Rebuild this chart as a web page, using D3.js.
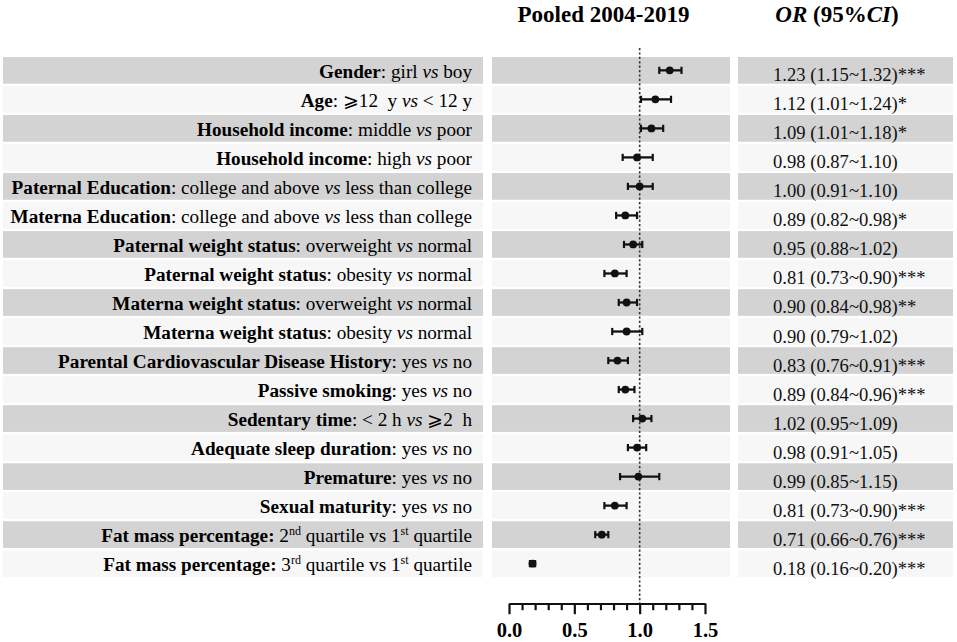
<!DOCTYPE html>
<html>
<head>
<meta charset="utf-8">
<script src="https://cdn.jsdelivr.net/npm/d3@7"></script>
<style>
  html, body { margin: 0; padding: 0; background: #fff; }
  svg { display: block; font-family: "Liberation Serif", "Times New Roman", "DejaVu Serif", serif; }
  text { white-space: pre; }
</style>
</head>
<body>
<svg id="chart" width="957" height="642"></svg>
<script>
// ---- data ----
const labelHeads = [
  "Gender", "Age", "Household income", "Household income",
  "Paternal Education", "Materna Education",
  "Paternal weight status", "Paternal weight status",
  "Materna weight status", "Materna weight status",
  "Parental Cardiovascular Disease History", "Passive smoking",
  "Sedentary time", "Adequate sleep duration", "Premature",
  "Sexual maturity", "Fat mass percentage:", "Fat mass percentage:"
];
const labelTails = [
  ": girl *vs* boy",
  ": \u2A7E12  y *vs* < 12 y",
  ": middle *vs* poor",
  ": high *vs* poor",
  ": college and above *vs* less than college",
  ": college and above *vs* less than college",
  ": overweight *vs* normal",
  ": obesity *vs* normal",
  ": overweight *vs* normal",
  ": obesity *vs* normal",
  ": yes *vs* no",
  ": yes *vs* no",
  ": < 2 h *vs* \u2A7E2  h",
  ": yes *vs* no",
  ": yes *vs* no",
  ": yes *vs* no",
  " 2^nd^ quartile vs 1^st^ quartile",
  " 3^rd^ quartile vs 1^st^ quartile"
];
const orValues = [1.23, 1.12, 1.09, 0.98, 1.00, 0.89, 0.95, 0.81, 0.90, 0.90, 0.83, 0.89, 1.02, 0.98, 0.99, 0.81, 0.71, 0.18];
const ciLower  = [1.15, 1.01, 1.01, 0.87, 0.91, 0.82, 0.88, 0.73, 0.84, 0.79, 0.76, 0.84, 0.95, 0.91, 0.85, 0.73, 0.66, 0.16];
const ciUpper  = [1.32, 1.24, 1.18, 1.10, 1.10, 0.98, 1.02, 0.90, 0.98, 1.02, 0.91, 0.96, 1.09, 1.05, 1.15, 0.90, 0.76, 0.20];
const signif   = ["***", "*", "*", "", "", "*", "", "***", "**", "", "***", "***", "", "", "", "***", "***", "***"];
const xTicksMajor = [0, 0.5, 1.0, 1.5];
const xTicksMinor = [0.1, 0.2, 0.3, 0.4, 0.6, 0.7, 0.8, 0.9, 1.1, 1.2, 1.3, 1.4];
const refValue = 1;

// ---- layout ----
const svg = d3.select("#chart");
const n = labelHeads.length;
const y = d3.scaleBand().domain(d3.range(n)).range([57, 577]).paddingInner(0.08);
const x = d3.scaleLinear().domain([0, 1.5]).range([509, 705]);
const fmt = d3.format(".2f");

const panels = [
  { x0: 3, x1: 483 },
  { x0: 492, x1: 730 },
  { x0: 738, x1: 953 }
];
const rowFill = i => (i % 2 === 0 ? "#d3d3d3" : "#f7f7f7");

// backgrounds
panels.forEach(p => {
  svg.append("g").selectAll("rect").data(d3.range(n)).join("rect")
    .attr("x", p.x0).attr("width", p.x1 - p.x0)
    .attr("y", i => y(i)).attr("height", y.bandwidth())
    .attr("fill", i => rowFill(i));
});

// titles
svg.append("text").attr("x", 603.5).attr("y", 22).attr("text-anchor", "middle")
  .attr("font-size", 23).attr("font-weight", "bold").attr("fill", "#000")
  .text("Pooled 2004-2019");
const orTitle = svg.append("text").attr("x", 837).attr("y", 22).attr("text-anchor", "middle")
  .attr("font-size", 23).attr("font-weight", "bold").attr("fill", "#000");
orTitle.append("tspan").attr("font-style", "italic").text("OR");
orTitle.append("tspan").text(" (95%");
orTitle.append("tspan").attr("font-style", "italic").text("CI");
orTitle.append("tspan").text(")");

// row labels
const lblG = svg.append("g");
d3.range(n).forEach(i => {
  const t = lblG.append("text")
    .attr("x", 472).attr("y", y(i) + y.bandwidth() / 2 + 7.5)
    .attr("text-anchor", "end").attr("font-size", 19.2).attr("fill", "#000");
  t.append("tspan").attr("font-weight", "bold").text(labelHeads[i]);
  // parse tail: *italic*, ^superscript^
  const parts = labelTails[i].split(/(\*[^*]+\*|\^[^^]+\^)/).filter(s => s.length);
  let raised = false;
  parts.forEach(s => {
    if (s.startsWith("*")) {
      t.append("tspan").attr("font-style", "italic").text(s.slice(1, -1));
    } else if (s.startsWith("^")) {
      t.append("tspan").attr("font-size", 12).attr("dy", -7).text(s.slice(1, -1));
      raised = true;
    } else {
      const ts = t.append("tspan").text(s);
      if (raised) { ts.attr("dy", 7); raised = false; }
    }
  });
});

// reference dotted line
svg.append("line")
  .attr("x1", x(refValue)).attr("x2", x(refValue))
  .attr("y1", 48).attr("y2", 603)
  .attr("stroke", "#333").attr("stroke-width", 1.6).attr("stroke-dasharray", "2.2,2.2");

// error bars + points
const capH = 3.6;
const eb = svg.append("g").selectAll("g").data(d3.range(n)).join("g")
  .attr("transform", i => `translate(0,${y(i) + y.bandwidth() / 2})`);
eb.append("line").attr("x1", i => x(ciLower[i])).attr("x2", i => x(ciUpper[i]))
  .attr("y1", 0).attr("y2", 0).attr("stroke", "#111").attr("stroke-width", 2.3);
eb.append("line").attr("x1", i => x(ciLower[i])).attr("x2", i => x(ciLower[i]))
  .attr("y1", -capH).attr("y2", capH).attr("stroke", "#111").attr("stroke-width", 2.2);
eb.append("line").attr("x1", i => x(ciUpper[i])).attr("x2", i => x(ciUpper[i]))
  .attr("y1", -capH).attr("y2", capH).attr("stroke", "#111").attr("stroke-width", 2.2);
eb.append("circle").attr("cx", i => x(orValues[i])).attr("cy", 0).attr("r", 3.9).attr("fill", "#111");

// OR text
svg.append("g").selectAll("text").data(d3.range(n)).join("text")
  .attr("x", 773).attr("y", i => y(i) + y.bandwidth() / 2 + 11)
  .attr("font-size", 18.6).attr("fill", "#111")
  .text(i => `${fmt(orValues[i])} (${fmt(ciLower[i])}~${fmt(ciUpper[i])})${signif[i]}`);

// axis
const axisY = 603.5;
const axG = svg.append("g").attr("transform", `translate(0,${axisY})`);
axG.call(d3.axisBottom(x).tickValues(xTicksMajor).tickFormat(d3.format(".1f"))
  .tickSize(10.7).tickSizeOuter(0).tickPadding(8.5));
axG.select(".domain").attr("stroke", "#111").attr("stroke-width", 2.2);
axG.selectAll(".tick line").attr("stroke", "#111").attr("stroke-width", 2.2);
axG.selectAll(".tick text").attr("font-family", "Liberation Serif, Times New Roman, serif")
  .attr("font-size", 20.5).attr("font-weight", "bold").attr("fill", "#000");
const minorG = svg.append("g").attr("transform", `translate(0,${axisY})`);
minorG.call(d3.axisBottom(x).tickValues(xTicksMinor).tickFormat("").tickSize(6.7).tickSizeOuter(0));
minorG.select(".domain").remove();
minorG.selectAll(".tick line").attr("stroke", "#111").attr("stroke-width", 2.2);
</script>
</body>
</html>
